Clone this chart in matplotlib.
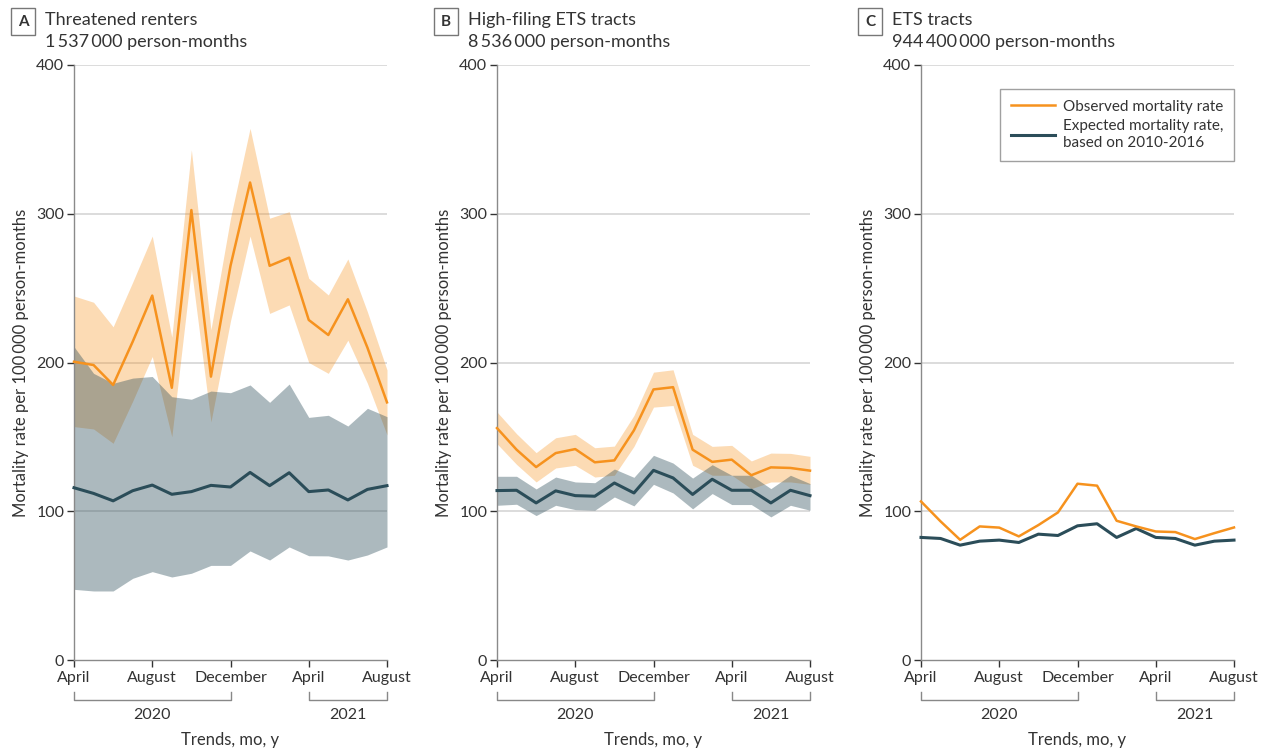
import matplotlib
matplotlib.use("Agg")
import matplotlib.pyplot as plt
import matplotlib.transforms as mtransforms
import numpy as np

plt.rcParams['font.family'] = ['Lato', 'DejaVu Sans']

# ---------------- data ----------------
months = list(range(17))  # April 2020 .. August 2021
tick_pos = [0, 4, 8, 12, 16]
tick_labels = ["April", "August", "December", "April", "August"]
year_labels = ["2020", "2021"]
year_spans = [(0, 8), (12, 16)]

panel_letters = ["A", "B", "C"]
panel_titles = ["Threatened renters", "High-filing ETS tracts", "ETS tracts"]
panel_subtitles = ["1\u2009537\u2009000 person-months", "8\u2009536\u2009000 person-months",
                   "944\u2009400\u2009000 person-months"]

obsA = [200.5, 198.3, 184.9, 214, 245, 183, 302.5, 190.5, 265, 321, 265, 270.5, 228.6, 218.5, 242.5, 210, 173.2]
obsA_hi = [244.7, 240.5, 224, 254, 285, 217, 343, 222, 297, 357.4, 297, 301.4, 256.6, 245.4, 269.6, 234, 195]
obsA_lo = [156.9, 155.3, 145.7, 174, 204, 150, 263, 160, 228, 285, 233, 238.7, 200, 192.7, 215, 186, 151.3]
expA = [115.8, 112, 107, 113.8, 117.6, 111.4, 113.2, 117.4, 116.3, 126.1, 117.2, 125.9, 113.2, 114.3, 107.6, 114.7, 117.2]
expA_hi = [210.6, 192.7, 186, 189.5, 190.6, 177, 175.3, 180.8, 179.7, 184.9, 173.2, 185.5, 163.1, 164.5, 157.3, 169.2, 163.6]
expA_lo = [47.5, 46.4, 46.4, 54.9, 59.4, 55.8, 58.3, 63.6, 63.6, 73.3, 67.2, 76, 70.1, 70, 67.2, 70.6, 76]

obsB = [155.9, 141.4, 129.7, 139.1, 141.8, 132.9, 134.2, 154.4, 181.9, 183.4, 141.4, 133.2, 134.7, 124.2, 129.5, 129.1, 127.3]
obsB_hi = [166.7, 152.1, 139.4, 149.4, 151.7, 142.7, 143.8, 164.4, 193.5, 195.1, 151.7, 143.6, 144.3, 133.8, 139.1, 138.9, 136.9]
obsB_lo = [145.4, 131.5, 119.7, 129.1, 130.9, 123, 124.2, 143.6, 170, 171.1, 130.9, 124.2, 124.2, 115.2, 119.7, 119.7, 118.1]
expB = [113.9, 114.1, 105.6, 113.7, 110.5, 110.1, 119, 112.3, 127.5, 122.4, 111.3, 121.5, 114.1, 114.1, 105.6, 114.1, 110.5]
expB_hi = [123.5, 123.5, 115, 123, 119.7, 119.2, 128.4, 122.8, 137.6, 132.4, 122.3, 131.3, 124.2, 124.2, 115.2, 124.2, 118.6]
expB_lo = [104, 104.7, 97.1, 104, 101.1, 100.7, 109.6, 103.6, 118.1, 112.3, 101.6, 111.9, 104.5, 104.5, 96.2, 104, 100.7]

obsC = [106.6, 93.2, 80.8, 89.8, 89.0, 83.1, 90.7, 99.2, 118.5, 117.2, 93.6, 89.8, 86.4, 86.0, 81.3, 85.3, 89.1]
expC = [82.4, 81.7, 77.2, 79.9, 80.6, 79.0, 84.6, 83.7, 90.2, 91.6, 82.4, 88.4, 82.4, 81.7, 77.2, 79.9, 80.6]

legend_labels = ["Observed mortality rate", "Expected mortality rate,\nbased on 2010-2016"]
ylabel = "Mortality rate per 100\u2009000 person-months"
xlabel = "Trends, mo, y"

# ---------------- style ----------------
ORANGE = "#F6921E"
DARK = "#2B4D59"
TXT = "#333333"
GRID = "#D9D9D9"
SPINE = "#8A8A8A"

W, H = 1265, 749
fig = plt.figure(figsize=(W / 100, H / 100), dpi=100)

lefts = [74, 497, 921]
ax_w = 313
top_px, bot_px = 65, 660

panels = [
    dict(obs=obsA, obs_hi=obsA_hi, obs_lo=obsA_lo, exp=expA, exp_hi=expA_hi, exp_lo=expA_lo),
    dict(obs=obsB, obs_hi=obsB_hi, obs_lo=obsB_lo, exp=expB, exp_hi=expB_hi, exp_lo=expB_lo),
    dict(obs=obsC, obs_hi=None, obs_lo=None, exp=expC, exp_hi=None, exp_lo=None),
]

for k, (lp, p) in enumerate(zip(lefts, panels)):
    ax = fig.add_axes([lp / W, (H - bot_px) / H, ax_w / W, (bot_px - top_px) / H])
    ax.set_xlim(0, 16)
    ax.set_ylim(0, 400)
    for s in ["top", "right"]:
        ax.spines[s].set_visible(False)
    ax.spines["left"].set_color(SPINE)
    ax.spines["bottom"].set_color(SPINE)
    ax.spines["left"].set_linewidth(1.0)
    ax.spines["bottom"].set_linewidth(1.0)
    ax.set_yticks([0, 100, 200, 300, 400])
    ax.set_xticks(tick_pos)
    ax.set_xticklabels(tick_labels)
    ax.tick_params(axis="both", colors=TXT, labelsize=11.5, length=5, width=1.0)
    ax.tick_params(axis="x", pad=3)
    ax.tick_params(axis="y", pad=2)
    for y in [100, 200, 300, 400]:
        ax.axhline(y, color=GRID, lw=1.3, zorder=0.5)

    if p["obs_hi"] is not None:
        ax.fill_between(months, p["obs_lo"], p["obs_hi"], color=ORANGE, alpha=0.33, lw=0, zorder=1)
        ax.fill_between(months, p["exp_lo"], p["exp_hi"], color=DARK, alpha=0.39, lw=0, zorder=2)
    l1, = ax.plot(months, p["obs"], color=ORANGE, lw=1.8, zorder=4, clip_on=False)
    l2, = ax.plot(months, p["exp"], color=DARK, lw=2.2, zorder=3, clip_on=False)

    ax.set_ylabel(ylabel, fontsize=12, color=TXT, labelpad=5)

    # year brackets
    trans = mtransforms.blended_transform_factory(ax.transData, ax.transAxes)
    y_tick_top = -(692 - bot_px) / (bot_px - top_px)
    y_line = -(700 - bot_px) / (bot_px - top_px)
    y_year = -(715 - bot_px) / (bot_px - top_px)
    for (a, b), lab in zip(year_spans, year_labels):
        ax.plot([a, a, b, b], [y_tick_top, y_line, y_line, y_tick_top], color="#888888",
                lw=1.0, transform=trans, clip_on=False)
        ax.text((a + b) / 2, y_year, lab, transform=trans, ha="center", va="center",
                fontsize=11.5, color=TXT)
    ax.text(0.5, -(740 - bot_px) / (bot_px - top_px), xlabel, transform=ax.transAxes,
            ha="center", va="center", fontsize=12, color=TXT)

    # panel titles
    bx = (lp - 51) / W
    fig.text(bx, 1 - 21.5 / H, panel_letters[k], ha="center", va="center", fontsize=11,
             fontweight="bold", color=TXT,
             bbox=dict(boxstyle="square,pad=0.45", fc="white", ec="#777777", lw=1.0))
    fig.text((lp - 29) / W, 1 - 20 / H, panel_titles[k], ha="left", va="center",
             fontsize=13, color=TXT)
    fig.text((lp - 29) / W, 1 - 42 / H, panel_subtitles[k], ha="left", va="center",
             fontsize=13, color=TXT)

    if k == 2:
        leg = ax.legend([l1, l2], legend_labels, loc="upper right",
                        bbox_to_anchor=(1.0, (bot_px - 89) / (bot_px - top_px)),
                        borderaxespad=0.0, fontsize=11, frameon=True,
                        fancybox=False, edgecolor="#888888", handlelength=2.9,
                        handletextpad=0.5, borderpad=0.7, labelspacing=0.35)
        leg.get_frame().set_linewidth(1.0)
        for t in leg.get_texts():
            t.set_color(TXT)
            t.set_linespacing(1.3)

fig.savefig("out.png", dpi=100)
